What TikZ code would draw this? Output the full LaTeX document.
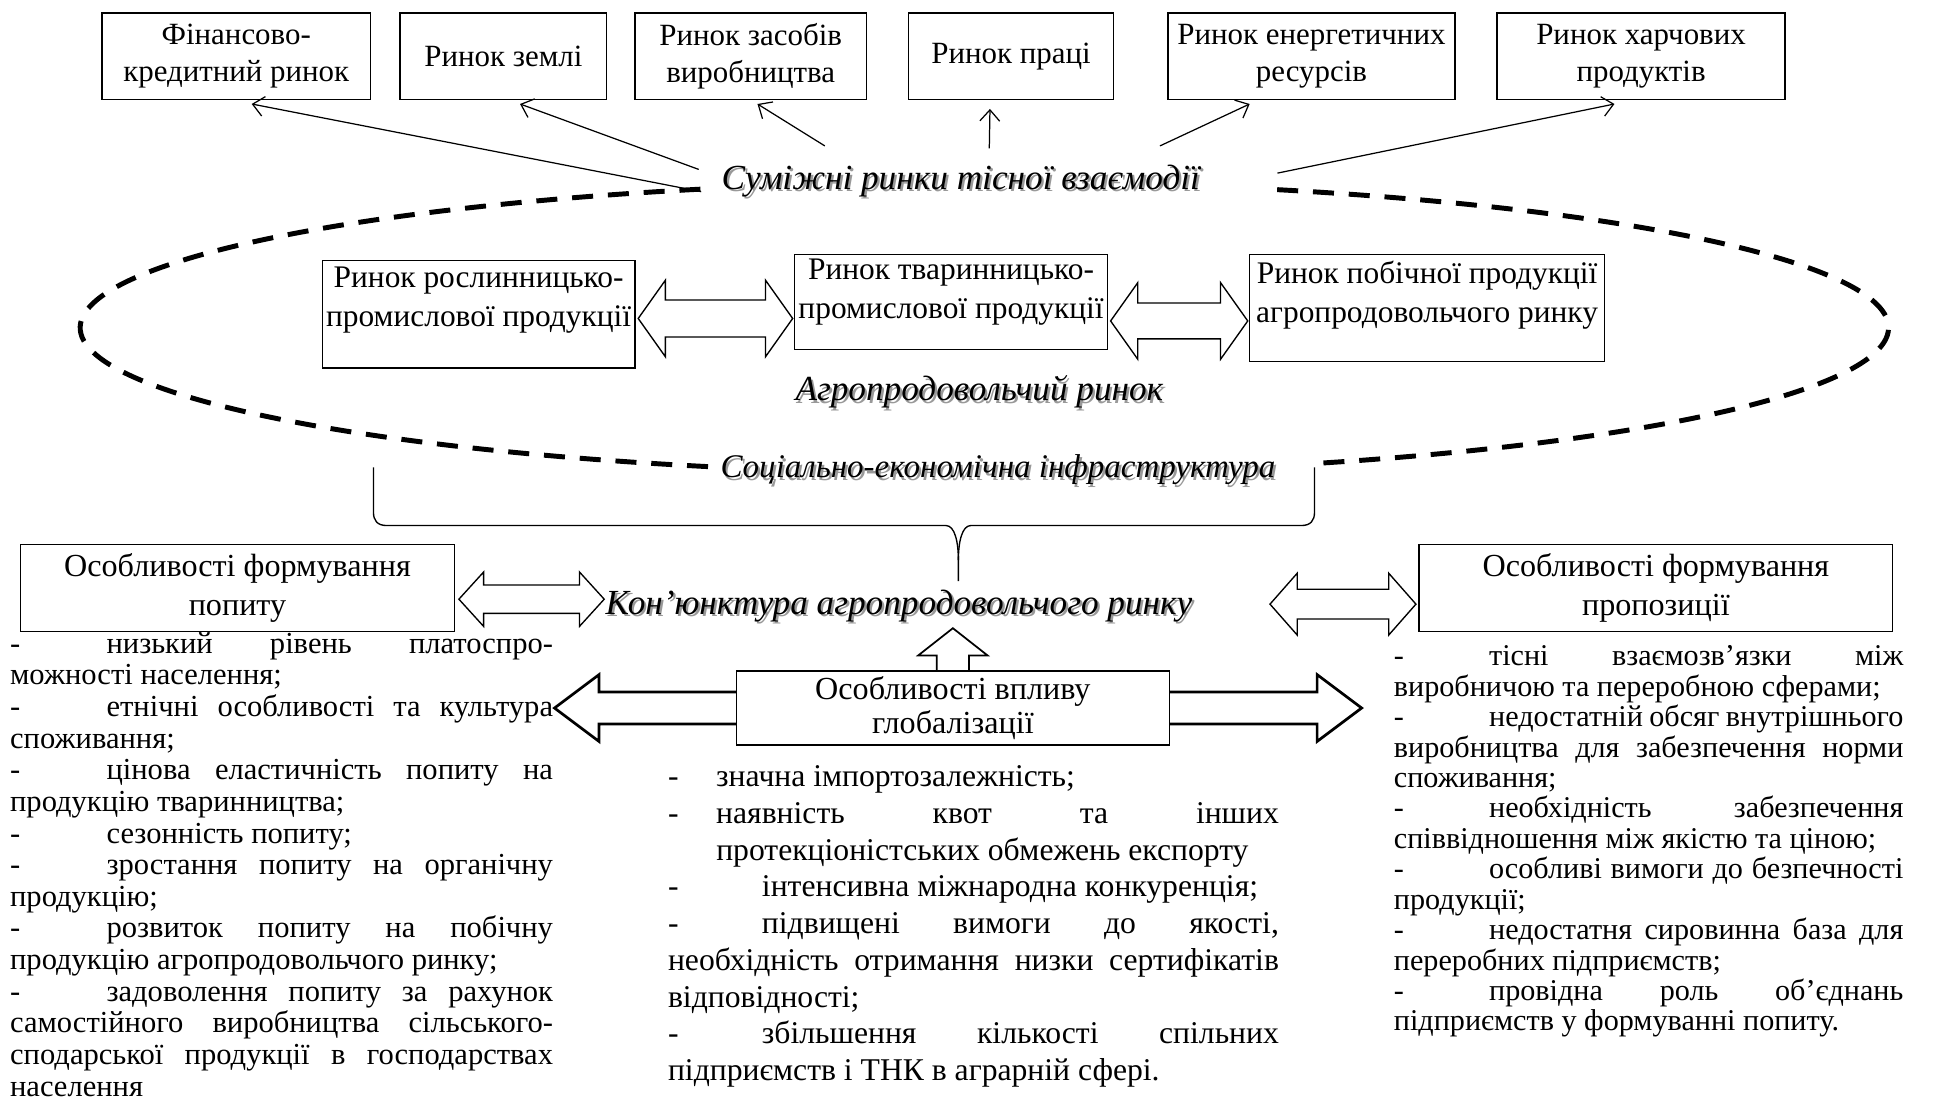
\documentclass[tikz,border=0pt]{standalone}
\usepackage{fontspec}
\setmainfont{Liberation Serif}
\usetikzlibrary{arrows.meta,calc}
\newcommand\lstsetup{\parindent=0pt\parskip=0pt\tolerance=10000\hyphenpenalty=10000\exhyphenpenalty=10000\relax}
\newcommand\shtxt[1]{\leavevmode\rlap{\textcolor{black!40}{\kern1.8pt\raisebox{-1.8pt}{#1}}}#1}
\newcommand\lmark[1]{\makebox[#1][l]{-}}
\newcommand\hdbl[5]{\draw[blockarr] let \p1=(#1), \p2=(#2) in (\x1,\y1) -- (\x1+#5,\y1+#4) -- (\x1+#5,\y1+#3) -- (\x2-#5,\y1+#3) -- (\x2-#5,\y1+#4) -- (\x2,\y1) -- (\x2-#5,\y1-#4) -- (\x2-#5,\y1-#3) -- (\x1+#5,\y1-#3) -- (\x1+#5,\y1-#4) -- cycle;}
\begin{document}
\begin{tikzpicture}[x=1pt,y=-1pt,
  box/.style={draw, line width=1.1pt, align=center, inner sep=0pt, anchor=north west, font=\fontsize{25.4}{31}\selectfont},
  topbox/.style={box, minimum height=70pt, font=\fontsize{25}{30}\selectfont},
  thinarr/.style={line width=1pt, -{Straight Barb[length=9pt,width=16pt]}},
  blockarr/.style={draw, line width=1.1pt, fill=white, line join=miter},
  bigarr/.style={draw, line width=2.2pt, line join=miter},
  ital/.style={font=\fontsize{28.5}{30}\selectfont\itshape, inner sep=1pt},
  lst/.style={anchor=north west, inner sep=0pt, align=justify},
  ell/.style={line width=4pt, dash pattern=on 17pt off 12pt},
  brace/.style={line width=1.1pt}
]
\useasboundingbox (0,0) rectangle (1568,890);

% top boxes
\node[topbox, minimum width=217pt] (B1) at (82,10) {Фінансово-\\кредитний ринок};
\node[topbox, minimum width=167pt] (B2) at (323,10) {Ринок землі};
\node[topbox, minimum width=187pt] (B3) at (513,10) {Ринок засобів\\виробництва};
\node[topbox, minimum width=166pt] (B4) at (734,10) {Ринок праці};
\node[topbox, minimum width=232pt] (B5) at (944,10) {Ринок енергетичних\\ресурсів};
\node[topbox, minimum width=233pt] (B6) at (1210,10) {Ринок харчових\\продуктів};

% labels
\node[ital] (S) at (777,147) {\shtxt{Суміжні ринки тісної взаємодії}};
\node[ital] (A) at (792,318) {\shtxt{Агропродовольчий ринок}};
\node[ital, font=\fontsize{26.7}{30}\selectfont\itshape] (SE) at (807,381) {\shtxt{Соціально-економічна інфраструктура}};
\node[ital] (K) at (727,491) {\shtxt{Кон’юнктура агропродовольчого ринку}};

% arrows to top boxes
\coordinate (s1) at (567,155);
\coordinate (s2) at (565,137);
\coordinate (s3) at (667,118);
\coordinate (s4) at (800,120);
\coordinate (s5) at (938,118);
\coordinate (s6) at (1033,140);
\draw[thinarr] (s1) -- ([xshift=12.5pt,yshift=-3pt]B1.south);
\draw[thinarr] (s2) -- ([xshift=13.5pt,yshift=-3pt]B2.south);
\draw[thinarr] (s3) -- ([xshift=5.5pt,yshift=-3pt]B3.south);
\draw[thinarr] (s4) -- ([xshift=-17pt,yshift=-7pt]B4.south);
\draw[thinarr] (s5) -- ([xshift=-50pt,yshift=-3pt]B5.south);
\draw[thinarr] (s6) -- ([xshift=-21.5pt,yshift=-3pt]B6.south);

% dashed ellipse (two arcs, interrupted by the labels)
\coordinate (ec) at (796,265);
\draw[ell] (ec) ++(-71.1:731 and 118) arc[start angle=-71.1, end angle=68.4, x radius=731, y radius=118];
\draw[ell] (ec) ++(107.8:731 and 118) arc[start angle=107.8, end angle=251.7, x radius=731, y radius=118];

% middle boxes
\node[box, minimum width=253pt, minimum height=87pt, text depth=28pt] (R1) at (260,210) {Ринок рослинницько-\\промислової продукції};
\node[box, minimum width=253pt, minimum height=77pt, text depth=21pt] (R2) at (642,205) {Ринок тваринницько-\\промислової продукції};
\node[box, minimum width=287pt, minimum height=87pt, text depth=26pt] (R3) at (1010,205) {Ринок побічної продукції\\агропродовольчого ринку};
\hdbl{[yshift=-3.5pt,xshift=2pt]R1.east}{[xshift=-1pt]R2.west}{15pt}{31pt}{22pt}
\hdbl{[yshift=-15.5pt,xshift=2pt]R2.east}{[xshift=-1pt]R3.west}{14.5pt}{31pt}{22pt}

% brace
\draw[brace] (302,378) -- (302,414) .. controls (302,421) and (305,425) .. (313,425) -- (765,425) .. controls (772,425) and (775,438) .. (775,453) -- (775,470);
\draw[brace] (1063,378) -- (1063,414) .. controls (1063,421) and (1060,425) .. (1052,425) -- (785,425) .. controls (778,425) and (775,438) .. (775,453);

% bottom boxes
\node[box, minimum width=351pt, minimum height=70pt, font=\fontsize{26}{31}\selectfont] (PB) at (16,440) {Особливості формування\\попиту};
\node[box, minimum width=383pt, minimum height=70pt, font=\fontsize{26}{31}\selectfont] (PZ) at (1147,440) {Особливості формування\\пропозиції};
\node[box, minimum width=350pt, minimum height=60pt, font=\fontsize{26}{28}\selectfont] (G) at (595,542) {Особливості впливу\\глобалізації};

\hdbl{[yshift=-9pt,xshift=3pt]PB.east}{K.west}{11.5pt}{22pt}{20pt}
\hdbl{[xshift=-120pt,yshift=-13pt]PZ.west}{[xshift=-2pt]PZ.west}{12pt}{25pt}{22pt}

% lists
\node[lst, text width=439pt, font=\fontsize{24.7}{25.6}\selectfont\lstsetup] (LL) at (8,511) {%
\lmark{78pt}низький~рівень~платоспро-\linebreak можності~населення;\par
\lmark{78pt}етнічні~особливості~та~культура\linebreak споживання;\par
\lmark{78pt}цінова~еластичність~попиту~на\linebreak продукцію~тваринництва;\par
\lmark{78pt}сезонність~попиту;\par
\lmark{78pt}зростання~попиту~на~органічну\linebreak продукцію;\par
\lmark{78pt}розвиток~попиту~на~побічну\linebreak продукцію~агропродовольчого~ринку;\par
\lmark{78pt}задоволення~попиту~за~рахунок\linebreak самостійного~виробництва~сільського-\linebreak сподарської~продукції~в~господарствах\linebreak населення};

\node[lst, text width=494pt, font=\fontsize{25.6}{29.7}\selectfont\lstsetup] (CL) at (540,619) {%
\hangindent=39pt\hangafter=1\lmark{39pt}значна~імпортозалежність;\par
\hangindent=39pt\hangafter=1\lmark{39pt}наявність~квот~та~інших\linebreak протекціоністських~обмежень~експорту\par
\lmark{76pt}інтенсивна~міжнародна~конкуренція;\par
\lmark{76pt}підвищені~вимоги~до~якості,\linebreak необхідність~отримання~низки~сертифікатів\linebreak відповідності;\par
\lmark{76pt}збільшення~кількості~спільних\linebreak підприємств~і~ТНК~в~аграрній~сфері.};

\node[lst, text width=412pt, font=\fontsize{24.4}{24.6}\selectfont\lstsetup] (RL) at (1127,522) {%
\lmark{77pt}тісні~взаємозв’язки~між\linebreak виробничою~та~переробною~сферами;\par
\lmark{77pt}недостатній~обсяг~внутрішнього\linebreak виробництва~для~забезпечення~норми\linebreak споживання;\par
\lmark{77pt}необхідність~забезпечення\linebreak співвідношення~між~якістю~та~ціною;\par
\lmark{77pt}особливі~вимоги~до~безпечності\linebreak продукції;\par
\lmark{77pt}недостатня~сировинна~база~для\linebreak переробних~підприємств;\par
\lmark{77pt}провідна~роль~об’єднань\linebreak підприємств~у~формуванні~попиту.};

% block arrows from the globalisation box
\draw[bigarr] let \p1=(G.west), \p2=(LL.east) in (\x1,\y1+13pt) -- (\x2+37pt,\y1+13pt) -- (\x2+37pt,\y1+27pt) -- (\x2+1pt,\y1) -- (\x2+37pt,\y1-27pt) -- (\x2+37pt,\y1-13pt) -- (\x1,\y1-13pt);
\draw[bigarr] let \p1=(G.east) in (\x1,\y1+13pt) -- (\x1+119pt,\y1+13pt) -- (\x1+119pt,\y1+27pt) -- (\x1+155pt,\y1) -- (\x1+119pt,\y1-27pt) -- (\x1+119pt,\y1-13pt) -- (\x1,\y1-13pt);
\draw[blockarr, fill=none, line width=1.4pt] let \p1=(G.north) in (\x1-13pt,\y1) -- (\x1-13pt,\y1+12pt) -- (\x1-28pt,\y1+12pt) -- (\x1,\y1+34pt) -- (\x1+28pt,\y1+12pt) -- (\x1+13pt,\y1+12pt) -- (\x1+13pt,\y1);
\end{tikzpicture}
\end{document}
